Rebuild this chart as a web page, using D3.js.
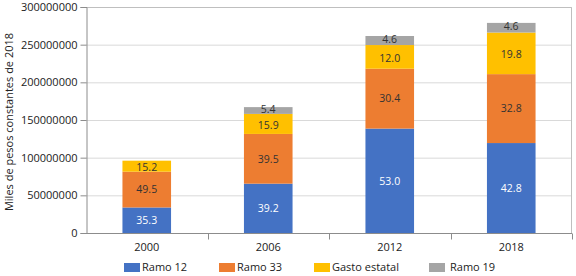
<!DOCTYPE html>
<html>
<head>
<meta charset="utf-8">
<script src="https://cdn.jsdelivr.net/npm/d3@7"></script>
<style>
  body { margin: 0; background: #fff; }
  svg { font-family: "Open Sans", sans-serif; }
</style>
</head>
<body>
<div id="chart"></div>
<script>
// values (miles de pesos constantes de 2018)
const years = ["2000", "2006", "2012", "2018"];
const seriesNames = ["Ramo 12", "Ramo 33", "Gasto estatal", "Ramo 19"];
const ramo12 = [33900000, 65500000, 138600000, 119400000];
const ramo33 = [47500000, 66000000, 79500000, 91500000];
const gastoEstatal = [14600000, 26600000, 31400000, 55200000];
const ramo19 = [0, 9000000, 12000000, 12800000];
// percentage labels printed inside the segments
const ramo12Labels = ["35.3", "39.2", "53.0", "42.8"];
const ramo33Labels = ["49.5", "39.5", "30.4", "32.8"];
const gastoLabels = ["15.2", "15.9", "12.0", "19.8"];
const ramo19Labels = ["", "5.4", "4.6", "4.6"];
const yTicks = [0, 50000000, 100000000, 150000000, 200000000, 250000000, 300000000];

const colors = ["#4472c4", "#ed7d31", "#ffc000", "#a5a5a5"];
const textColors = ["#ffffff", "#333333", "#333333", "#333333"];
const labelNudge = [0, 0, 1, -1];

const width = 576, height = 276;
const margin = {top: 7, right: 4, bottom: 43, left: 86};

const keys = ["r12", "r33", "ge", "r19"];
const table = years.map((y, i) => ({
  year: y,
  r12: ramo12[i], r33: ramo33[i], ge: gastoEstatal[i], r19: ramo19[i],
  labels: [ramo12Labels[i], ramo33Labels[i], gastoLabels[i], ramo19Labels[i]]
}));

const svg = d3.select("#chart").append("svg")
  .attr("width", width)
  .attr("height", height);

const x = d3.scaleBand()
  .domain(years)
  .range([margin.left, width - margin.right])
  .paddingInner(0.6)
  .paddingOuter(0.3);

const y = d3.scaleLinear()
  .domain([0, 300000000])
  .range([height - margin.bottom, margin.top]);

// gridlines
svg.append("g")
  .selectAll("line")
  .data(yTicks.slice(1))
  .join("line")
    .attr("x1", margin.left)
    .attr("x2", width - margin.right)
    .attr("y1", d => y(d) + 0.5)
    .attr("y2", d => y(d) + 0.5)
    .attr("stroke", "#d9d9d9");

// frame (top and right)
svg.append("path")
  .attr("d", `M${margin.left},${y(300000000) + 0.5}H${width - margin.right - 0.5}V${y(0)}`)
  .attr("fill", "none")
  .attr("stroke", "#bfbfbf");

// bars
const stack = d3.stack().keys(keys)(table);

const layers = svg.append("g")
  .selectAll("g")
  .data(stack)
  .join("g")
    .attr("fill", (d, i) => colors[i]);

layers.selectAll("rect")
  .data(d => d)
  .join("rect")
    .attr("x", d => x(d.data.year))
    .attr("width", x.bandwidth())
    .attr("y", d => y(d[1]))
    .attr("height", d => y(d[0]) - y(d[1]));

// segment labels
stack.forEach((layer, li) => {
  svg.append("g")
    .selectAll("text")
    .data(layer.filter(d => d[1] > d[0]))
    .join("text")
      .attr("x", d => x(d.data.year) + x.bandwidth() / 2)
      .attr("y", d => (y(d[0]) + y(d[1])) / 2 + labelNudge[li])
      .attr("dy", "0.36em")
      .attr("text-anchor", "middle")
      .attr("font-size", 10.5)
      .attr("fill", textColors[li])
      .text(d => d.data.labels[li]);
});

// y axis
const yAxis = svg.append("g")
  .attr("transform", `translate(${margin.left + 0.5},0)`)
  .call(d3.axisLeft(y).tickValues(yTicks).tickFormat(d3.format("d")).tickSize(6).tickPadding(3));
yAxis.select(".domain").attr("stroke", "#8c8c8c");
yAxis.selectAll(".tick line").attr("stroke", "#8c8c8c");
yAxis.selectAll("text").attr("font-size", 11).attr("fill", "#222")
  .attr("font-family", "'Open Sans', sans-serif");

// x axis
const xAxis = svg.append("g")
  .attr("transform", `translate(0,${y(0) + 0.5})`);
xAxis.append("line")
  .attr("x1", margin.left)
  .attr("x2", width - margin.right)
  .attr("stroke", "#8c8c8c");
xAxis.selectAll(".sep")
  .data(years)
  .join("line")
    .attr("class", "sep")
    .attr("x1", d => Math.round(x(d) + x.bandwidth() + x.step() * x.paddingInner() / 2) + 0.5)
    .attr("x2", d => Math.round(x(d) + x.bandwidth() + x.step() * x.paddingInner() / 2) + 0.5)
    .attr("y1", 0)
    .attr("y2", 6)
    .attr("stroke", "#8c8c8c");
xAxis.selectAll("text")
  .data(years)
  .join("text")
    .attr("x", d => x(d) + x.bandwidth() / 2)
    .attr("y", 17)
    .attr("text-anchor", "middle")
    .attr("font-size", 11)
    .attr("fill", "#222")
    .text(d => d);

// y axis title
svg.append("text")
  .attr("transform", `translate(13,${(margin.top + y(0)) / 2 + 2}) rotate(-90)`)
  .attr("text-anchor", "middle")
  .attr("font-size", 11)
  .attr("fill", "#222")
  .text("Miles de pesos constantes de 2018");

// legend
const legendX = [124, 219, 314, 429];
const legend = svg.append("g")
  .selectAll("g")
  .data(seriesNames)
  .join("g")
    .attr("transform", (d, i) => `translate(${legendX[i]},263)`);
legend.append("rect")
  .attr("width", 16)
  .attr("height", 9)
  .attr("fill", (d, i) => colors[i]);
legend.append("text")
  .attr("x", (d, i) => i === 3 ? 21 : 18)
  .attr("y", 4.5)
  .attr("dy", "0.36em")
  .attr("font-size", 11)
  .attr("fill", "#222")
  .text(d => d);
</script>
</body>
</html>
